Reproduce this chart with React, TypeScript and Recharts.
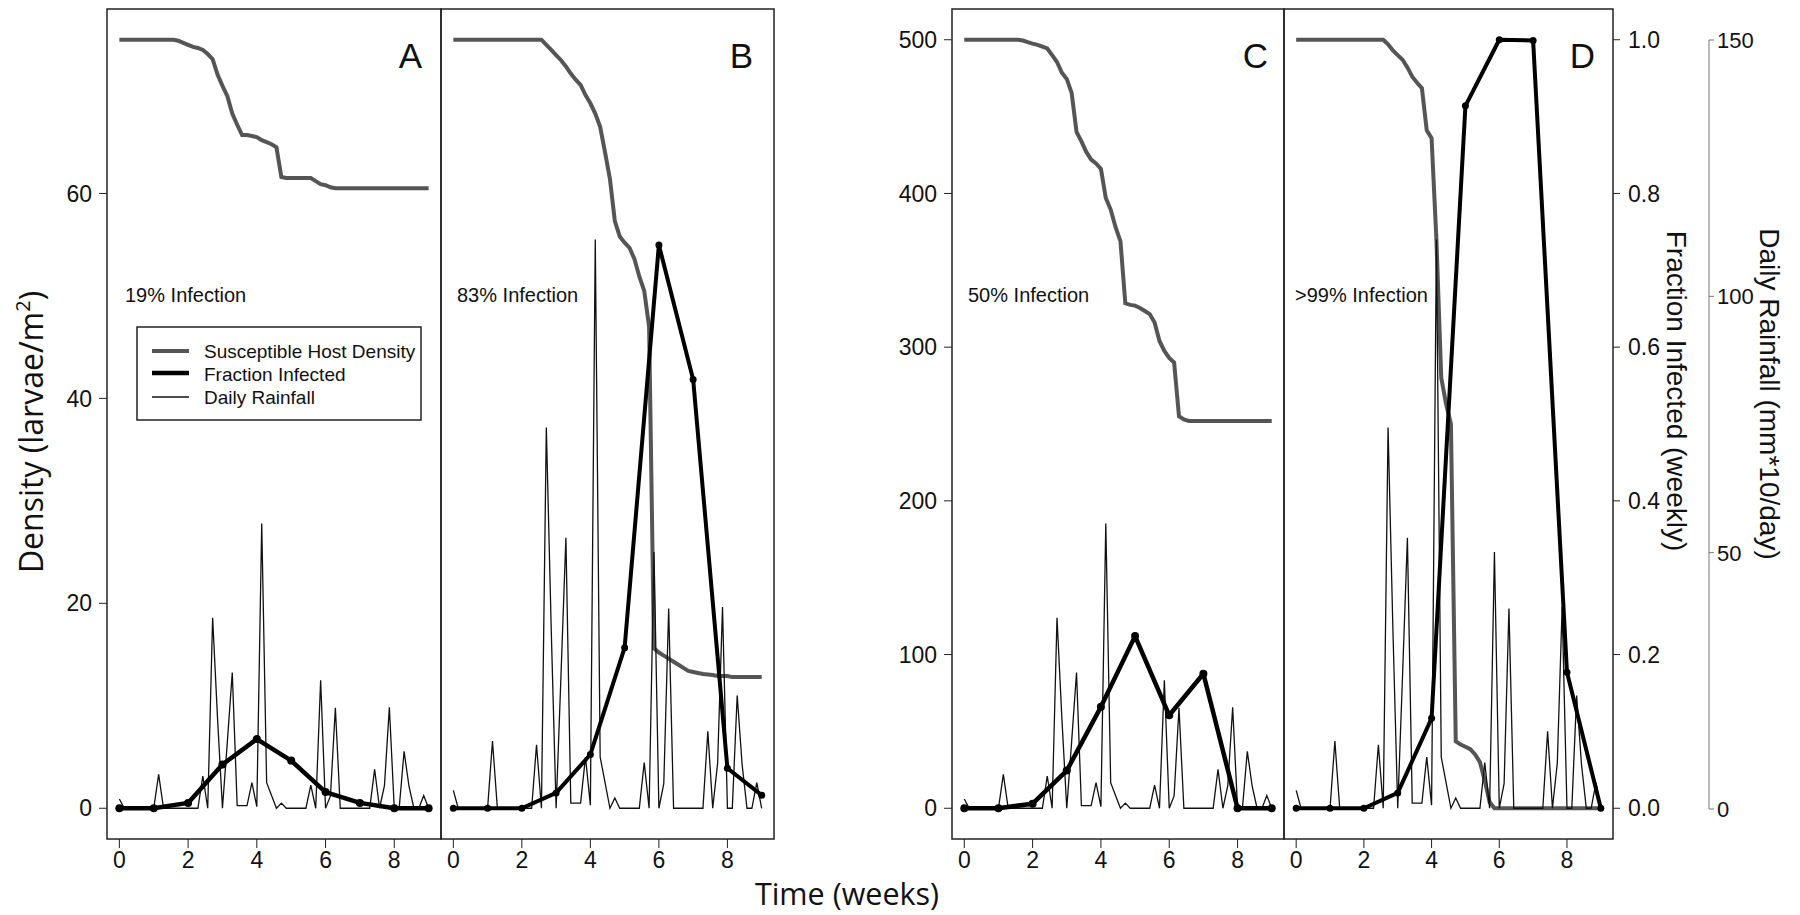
import React from "react";
import { Line, LineChart, XAxis, YAxis } from "recharts";

const FONT = '"Liberation Sans", Arial, Helvetica, sans-serif';
const TITLE_FONT = '"Open Sans", "Liberation Sans", sans-serif';

// weekly sampling for fraction infected, daily sampling (0..63) for density & rain
const weeks = [0, 1, 2, 3, 4, 5, 6, 7, 8, 9];
const weekTicks = [0, 2, 4, 6, 8];

// daily rainfall (mm*10/day), low-rain scenario (panels A, C)
const rainLow = [
  1.8, 0, 0, 0, 0, 0, 0, 0, 6.6, 0,
  0, 0, 0, 0, 0, 0, 0, 6.3, 0, 37.2,
  17.5, 0, 13, 26.5, 0.5, 0.5, 0.5, 5, 0.3, 55.6,
  5, 2.5, 0, 1, 0, 0, 0, 0, 0, 4.5,
  0, 25, 0, 2.4, 19.6, 0, 0, 0, 0, 0,
  0, 0, 7.6, 0, 4.4, 19.7, 0, 0, 11.1, 4.3,
  0, 0, 2.5, 0,
];
// daily rainfall, high-rain scenario (panels B, D)
const rainHigh = [
  3.5, 0, 0, 0, 0, 0, 0, 0, 13.1, 0,
  0, 0, 0, 0, 0, 0, 0, 12.4, 0, 74.3,
  35, 0, 26, 52.8, 1, 1, 1, 10, 0.6, 111,
  10, 5, 0, 2, 0, 0, 0, 0, 0, 8.9,
  0, 50, 0, 4.8, 39, 0, 0, 0, 0, 0,
  0, 0, 15, 0, 8.8, 39.3, 0, 0, 22, 8.6,
  0, 0, 5, 0,
];

// fraction infected (weekly)
const fracA = [0, 0, 0.007, 0.057, 0.09, 0.062, 0.021, 0.007, 0, 0];
const fracB = [0, 0, 0, 0.02, 0.07, 0.209, 0.733, 0.558, 0.052, 0.017];
const fracC = [0, 0, 0.006, 0.049, 0.132, 0.224, 0.121, 0.175, 0, 0];
const fracD = [0, 0, 0, 0.02, 0.117, 0.914, 1.0, 0.999, 0.177, 0];

// susceptible host density (daily)
const densA = [
  75, 75, 75, 75, 75, 75, 75, 75, 75, 75,
  75, 75, 74.9, 74.7, 74.5, 74.3, 74.2, 74.0, 73.6, 73.1,
  71.6, 70.5, 69.5, 67.8, 66.7, 65.7, 65.7, 65.6, 65.5, 65.2,
  65.0, 64.8, 64.5, 61.6, 61.5, 61.5, 61.5, 61.5, 61.5, 61.5,
  61.2, 60.9, 60.8, 60.6, 60.5, 60.5, 60.5, 60.5, 60.5, 60.5,
  60.5, 60.5, 60.5, 60.5, 60.5, 60.5, 60.5, 60.5, 60.5, 60.5,
  60.5, 60.5, 60.5, 60.5,
];
const densB = [
  75, 75, 75, 75, 75, 75, 75, 75, 75, 75,
  75, 75, 75, 75, 75, 75, 75, 75, 75, 74.5,
  74.0, 73.5, 73.0, 72.4, 71.7, 71.1, 70.6, 69.6, 68.8, 67.8,
  66.5, 64.0, 61.4, 57.3, 55.8, 55.2, 54.7, 53.6, 51.9, 50.5,
  47, 15.6, 15.2, 14.9, 14.6, 14.3, 14.0, 13.7, 13.4, 13.3,
  13.2, 13.1, 13.05, 13.0, 12.9, 12.9, 12.9, 12.8, 12.8, 12.8,
  12.8, 12.8, 12.8, 12.8,
];
const densC = [
  500, 500, 500, 500, 500, 500, 500, 500, 500, 500,
  500, 500, 499.5, 498.4, 497.5, 496.7, 495.5, 494.3, 490, 485.5,
  478.5, 474.5, 465.4, 440, 433.9, 427, 422, 419.5, 416, 397,
  389.5, 378, 369, 328.5, 327.5, 327, 325.5, 323.5, 321.5, 316,
  304, 297.5, 293, 290, 255, 253, 252, 252, 252, 252,
  252, 252, 252, 252, 252, 252, 252, 252, 252, 252,
  252, 252, 252, 252,
];
const densD = [
  500, 500, 500, 500, 500, 500, 500, 500, 500, 500,
  500, 500, 500, 500, 500, 500, 500, 500, 500, 497,
  493, 490, 487, 482, 476, 472, 468.5, 441, 436, 370,
  280, 263, 250, 43.5, 41.5, 40, 38.5, 35, 30, 18,
  4, 0, 0, 0, 0, 0, 0, 0, 0, 0,
  0, 0, 0, 0, 0, 0, 0, 0, 0, 0,
  0, 0, 0, 0,
];

const densTicksAB = [0, 20, 40, 60];
const densTicksCD = [0, 100, 200, 300, 400, 500];
const fracTicks = [0, 0.2, 0.4, 0.6, 0.8, 1.0];
const rainTicks = [0, 50, 100, 150];

const daily = (vals: number[]) => vals.map((v, d) => ({ week: d / 7, v }));
const weekly = (vals: number[]) => vals.map((v, i) => ({ week: weeks[i], v }));

const tickStyle = { fill: "#111", fontSize: 23, fontFamily: FONT };

type PanelProps = {
  left: number;
  width: number;
  dens: number[];
  frac: number[];
  rain: number[];
  densDomain: [number, number];
  densTicks: number[];
  showDens: boolean;
  showFrac: boolean;
  dotR: number;
  fracW: number;
};

function Panel(p: PanelProps) {
  return (
    <div style={{ position: "absolute", left: p.left, top: 0 }}>
      <LineChart
        width={p.width}
        height={915}
        margin={{ top: 9, right: 0, bottom: 0, left: 0 }}
      >
        <XAxis
          type="number"
          dataKey="week"
          domain={[-0.36, 9.36]}
          ticks={weekTicks}
          interval={0}
          allowDataOverflow
          height={76}
          tickSize={9}
          tickMargin={4}
          axisLine={false}
          stroke="#222"
          tick={tickStyle}
        />
        <YAxis
          yAxisId="dens"
          type="number"
          domain={p.densDomain}
          ticks={p.densTicks}
          interval={0}
          allowDataOverflow
          hide={!p.showDens}
          width={107}
          tickSize={8}
          tickMargin={7}
          axisLine={false}
          stroke="#222"
          tick={tickStyle}
        />
        <YAxis
          yAxisId="frac"
          type="number"
          orientation="right"
          domain={[-0.04, 1.04]}
          ticks={fracTicks}
          interval={0}
          allowDataOverflow
          hide={!p.showFrac}
          width={96}
          tickSize={7}
          tickMargin={8}
          axisLine={false}
          stroke="#222"
          tick={tickStyle}
          tickFormatter={(v: number) => v.toFixed(1)}
        />
        <YAxis
          yAxisId="rain"
          type="number"
          domain={[-6, 156]}
          allowDataOverflow
          hide
        />
        <Line
          yAxisId="dens"
          data={daily(p.dens)}
          dataKey="v"
          type="linear"
          stroke="#555"
          strokeWidth={4}
          dot={false}
          activeDot={false}
          isAnimationActive={false}
        />
        <Line
          yAxisId="rain"
          data={daily(p.rain)}
          dataKey="v"
          type="linear"
          stroke="#111"
          strokeWidth={1.3}
          dot={false}
          activeDot={false}
          isAnimationActive={false}
        />
        <Line
          yAxisId="frac"
          data={weekly(p.frac)}
          dataKey="v"
          type="linear"
          stroke="#000"
          strokeWidth={p.fracW}
          strokeLinejoin="round"
          dot={{ r: p.dotR, fill: "#000", stroke: "none" }}
          activeDot={false}
          isAnimationActive={false}
        />
      </LineChart>
    </div>
  );
}

function RainTick(props: any) {
  const { x, y, payload } = props;
  return (
    <text
      x={x}
      y={y}
      dy="0.36em"
      textAnchor="start"
      fontSize={22}
      fontFamily={FONT}
      fill="#111"
    >
      {payload.value}
    </text>
  );
}

function RainAxis() {
  return (
    <div style={{ position: "absolute", left: 1700, top: 0 }}>
      <LineChart
        width={100}
        height={915}
        margin={{ top: 40, right: 0, bottom: 106, left: 0 }}
      >
        <XAxis type="number" dataKey="week" domain={[0, 9]} hide />
        <YAxis
          yAxisId="rainAxis"
          type="number"
          orientation="right"
          domain={[0, 150]}
          ticks={rainTicks}
          interval={0}
          allowDataOverflow
          width={91}
          tickSize={5}
          tickMargin={3}
          stroke="#777"
          tick={<RainTick />}
        />
        <Line
          yAxisId="rainAxis"
          data={daily(rainHigh)}
          dataKey="v"
          stroke="none"
          dot={false}
          activeDot={false}
          isAnimationActive={false}
        />
      </LineChart>
    </div>
  );
}

const frames = [
  { x: 107, w: 334 },
  { x: 441, w: 333 },
  { x: 952, w: 332 },
  { x: 1284, w: 329 },
];

const infoLabels = [
  { x: 125, text: "19% Infection" },
  { x: 457, text: "83% Infection" },
  { x: 968, text: "50% Infection" },
  { x: 1295, text: ">99% Infection" },
];

const letters = [
  { x: 422, text: "A" },
  { x: 753, text: "B" },
  { x: 1268, text: "C" },
  { x: 1595, text: "D" },
];

function Overlay() {
  return (
    <svg
      width={1800}
      height={915}
      style={{ position: "absolute", left: 0, top: 0, pointerEvents: "none" }}
    >
      {frames.map((f) => (
        <rect
          key={f.x}
          x={f.x}
          y={9}
          width={f.w}
          height={830}
          fill="none"
          stroke="#222"
          strokeWidth={1.5}
        />
      ))}
      {infoLabels.map((l) => (
        <text key={l.x} x={l.x} y={302} fontSize={20} fontFamily={FONT} fill="#111">
          {l.text}
        </text>
      ))}
      {letters.map((l) => (
        <text
          key={l.x}
          x={l.x}
          y={68}
          fontSize={35}
          fontFamily={FONT}
          fill="#111"
          textAnchor="end"
        >
          {l.text}
        </text>
      ))}

      {/* legend */}
      <rect x={137} y={327} width={284} height={93} fill="#fff" stroke="#222" strokeWidth={1.5} />
      <line x1={152} x2={189} y1={351} y2={351} stroke="#555" strokeWidth={4} />
      <line x1={152} x2={189} y1={373} y2={373} stroke="#000" strokeWidth={4.5} />
      <line x1={152} x2={189} y1={397} y2={397} stroke="#111" strokeWidth={1.3} />
      <text x={204} y={358} fontSize={19} fontFamily={FONT} fill="#111">
        Susceptible Host Density
      </text>
      <text x={204} y={381} fontSize={19} fontFamily={FONT} fill="#111">
        Fraction Infected
      </text>
      <text x={204} y={404} fontSize={19} fontFamily={FONT} fill="#111">
        Daily Rainfall
      </text>

      {/* axis titles */}
      <text
        transform="translate(43, 432) rotate(-90)"
        textAnchor="middle"
        fontSize={32}
        fontFamily={TITLE_FONT}
        fill="#111"
      >
        Density (larvae/m
        <tspan baselineShift="super" fontSize={20}>
          2
        </tspan>
        )
      </text>
      <text x={847} y={905} textAnchor="middle" fontSize={30.5} fontFamily={TITLE_FONT} fill="#111">
        Time (weeks)
      </text>
      <text
        transform="translate(1667, 391) rotate(90)"
        textAnchor="middle"
        fontSize={28}
        fontFamily={FONT}
        fill="#111"
      >
        Fraction Infected (weekly)
      </text>
      <text
        transform="translate(1760, 394) rotate(90)"
        textAnchor="middle"
        fontSize={28}
        fontFamily={FONT}
        fill="#111"
      >
        Daily Rainfall (mm*10/day)
      </text>
    </svg>
  );
}

export default function App() {
  return (
    <div
      style={{
        position: "absolute",
        left: 0,
        top: 0,
        width: 1800,
        height: 915,
        background: "#fff",
        fontFamily: FONT,
      }}
    >
      <Panel
        left={0}
        width={441}
        dens={densA}
        frac={fracA}
        rain={rainLow}
        densDomain={[-3, 78]}
        densTicks={densTicksAB}
        showDens
        showFrac={false}
        dotR={4}
        fracW={4.5}
      />
      <Panel
        left={441}
        width={333}
        dens={densB}
        frac={fracB}
        rain={rainHigh}
        densDomain={[-3, 78]}
        densTicks={densTicksAB}
        showDens={false}
        showFrac={false}
        dotR={3.5}
        fracW={4}
      />
      <Panel
        left={845}
        width={439}
        dens={densC}
        frac={fracC}
        rain={rainLow}
        densDomain={[-20, 520]}
        densTicks={densTicksCD}
        showDens
        showFrac={false}
        dotR={4}
        fracW={4.5}
      />
      <Panel
        left={1284}
        width={425}
        dens={densD}
        frac={fracD}
        rain={rainHigh}
        densDomain={[-20, 520]}
        densTicks={densTicksCD}
        showDens={false}
        showFrac
        dotR={3.5}
        fracW={4}
      />
      <RainAxis />
      <Overlay />
    </div>
  );
}
